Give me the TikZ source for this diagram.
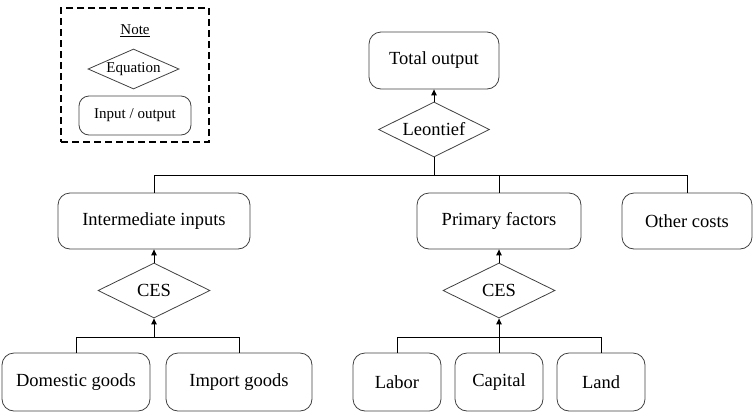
\documentclass[tikz,border=0pt]{standalone}
\usepackage{fontspec}
\setmainfont{Liberation Serif}
\usetikzlibrary{shapes.geometric,arrows.meta}
\begin{document}
\begin{tikzpicture}[x=1pt,y=-1pt,
  iobox/.style={draw=black!75,line width=0.8pt,rounded corners=12pt,inner sep=0pt,
    font=\fontsize{18.5}{22}\selectfont},
  eqbox/.style={draw=black!75,line width=0.8pt,shape=diamond,inner sep=0pt,
    minimum width=111pt,minimum height=55pt,font=\fontsize{18.5}{22}\selectfont},
  conn/.style={draw=black,line width=1pt},
  arr/.style={conn,-{Triangle[length=6pt,width=5.5pt]}}]
\useasboundingbox (0,0) rectangle (754,413);
% note
\node[draw=black,dash pattern=on 7pt off 4pt,line width=1.1pt,minimum width=148pt,minimum height=134pt,inner sep=0pt] (notebox) at (135,75) {};
\node[font=\fontsize{15}{18}\selectfont] (notetitle) at (135,31) {\underline{Note}};
\node[eqbox,minimum width=91pt,minimum height=40pt,font=\fontsize{15}{18}\selectfont] (noteeq) at (133.5,69) {\makebox[0pt]{Equation}};
\node[iobox,minimum width=112pt,minimum height=39pt,rounded corners=10pt,font=\fontsize{15}{18}\selectfont] (noteio) at (135,115.5) {Input / output};
% main
\node[iobox,minimum width=130pt,minimum height=57pt] (to) at (434,60.5) {Total output};
\node[eqbox] (leo) at (434,129.5) {\makebox[0pt]{Leontief}};
\node[iobox,minimum width=192pt,minimum height=56pt] (ii) at (154,221) {Intermediate inputs};
\node[iobox,minimum width=164pt,minimum height=56pt] (pf) at (499,221) {Primary factors};
\node[iobox,minimum width=130pt,minimum height=56pt] (oc) at (687,221) {Other costs};
\node[eqbox,minimum width=112pt] (ces1) at (154,290.5) {\makebox[0pt]{CES}};
\node[eqbox,minimum width=112pt] (ces2) at (499,290.5) {\makebox[0pt]{CES}};
\node[iobox,minimum width=148pt,minimum height=58pt] (dg) at (76,382) {Domestic goods};
\node[iobox,minimum width=146pt,minimum height=58pt] (ig) at (239,382) {Import goods};
\node[iobox,minimum width=88pt,minimum height=58pt] (lab) at (397,382) {Labor};
\node[iobox,minimum width=88pt,minimum height=58pt] (cap) at (499,382) {Capital};
\node[iobox,minimum width=88pt,minimum height=58pt] (land) at (601,382) {Land};
\coordinate (bus) at (0,175);
\coordinate (jn) at (0,337);
% connectors
\draw[arr] (leo.north) -- (to.south);
\draw[conn] (leo.south) -- (leo.south |- bus);
\draw[conn] (ii.north) |- (oc.north |- bus) -- (oc.north);
\draw[conn] (pf.north) -- (pf.north |- bus);
\draw[arr] (ces1.north) -- (ii.south);
\draw[arr] (ces2.north) -- (pf.south);
\draw[conn] (dg.north) |- (ig.north |- jn) -- (ig.north);
\draw[arr] (ces1.south |- jn) -- (ces1.south);
\draw[conn] (lab.north) |- (land.north |- jn) -- (land.north);
\draw[arr] (cap.north) -- (ces2.south);
\end{tikzpicture}
\end{document}
